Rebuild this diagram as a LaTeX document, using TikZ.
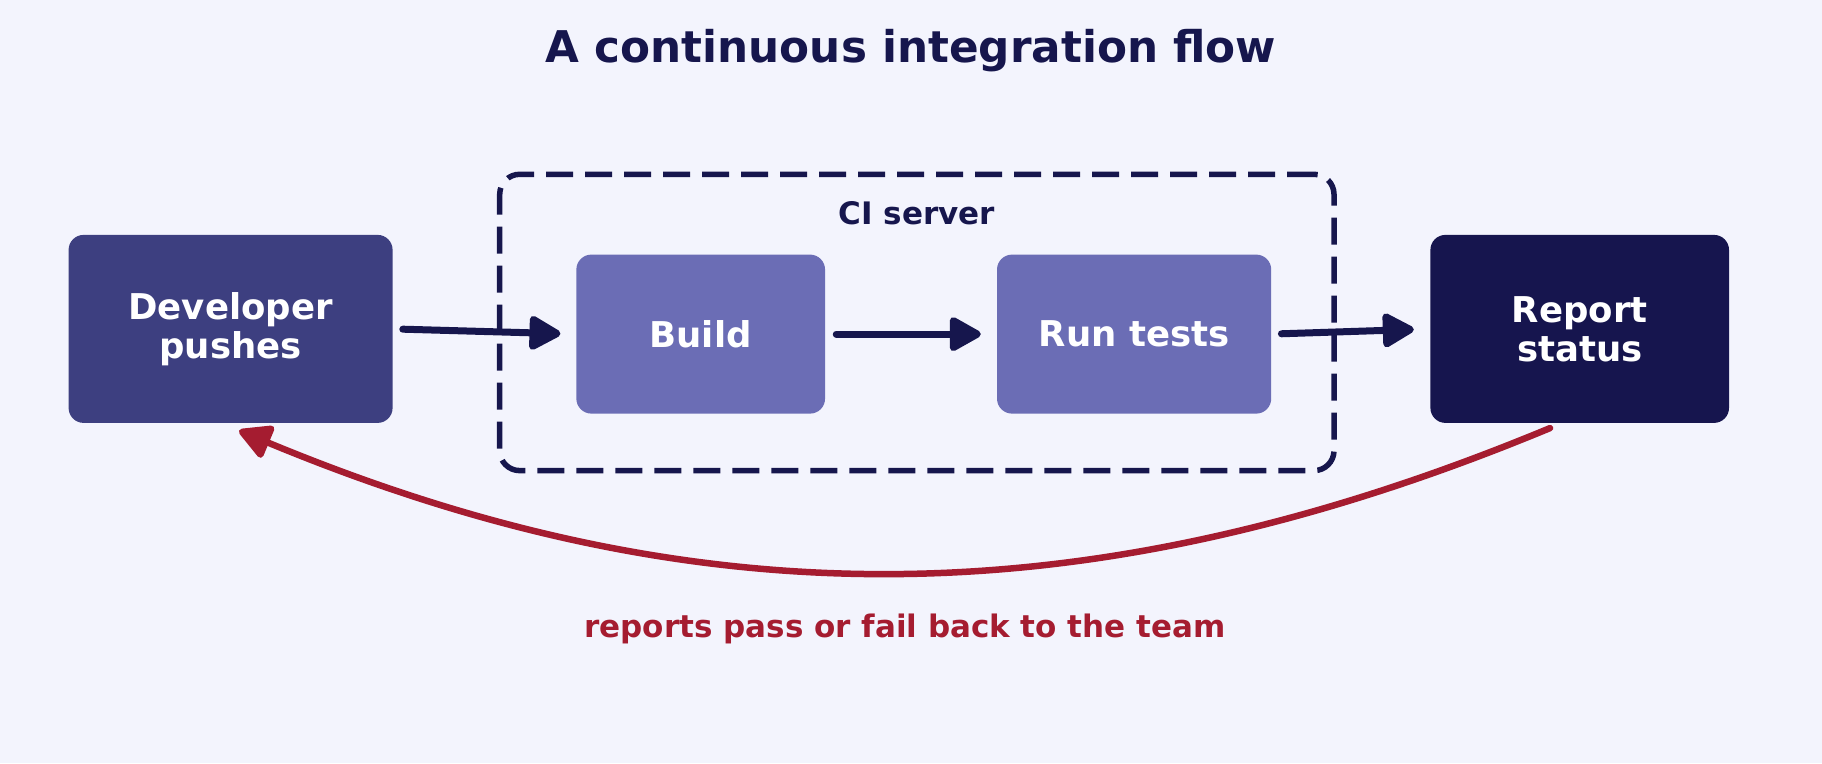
\documentclass[tikz,border=0pt]{standalone}
\usepackage{fontspec}
\setmainfont{DejaVu Sans}
\usetikzlibrary{arrows.meta,calc}
\definecolor{bgc}{HTML}{F3F4FD}
\definecolor{devc}{HTML}{3D3F80}
\definecolor{stepc}{HTML}{6B6DB5}
\definecolor{repc}{HTML}{16154E}
\definecolor{navy}{HTML}{16164D}
\definecolor{redc}{HTML}{A51C30}
\tikzset{
  box/.style={rounded corners=15pt, inner sep=0pt, align=center, text=white,
    font=\fontsize{35.5}{39}\selectfont\bfseries},
  flow/.style={draw=navy, line width=7pt, line cap=round,
    -{Triangle[length=35pt,width=37pt,round]}},
  back/.style={draw=redc, line width=6.5pt, line cap=round,
    -{Triangle[length=36pt,width=37pt,round]}},
  cibox/.style={draw=navy, line width=5.5pt, rounded corners=20pt,
    dash pattern=on 27pt off 12pt, inner sep=0pt},
}
\begin{document}
\begin{tikzpicture}[x=1pt,y=-1pt]
\fill[bgc] (0,0) rectangle (1822,763);
\useasboundingbox (0,0) rectangle (1822,763);

\node[anchor=base, text=navy, font=\fontsize{43.7}{48}\selectfont\bfseries] (title) at (911,62.7) {A continuous integration flow};

\node[cibox, minimum width=834.3pt, minimum height=296.3pt] (ci) at (916.85,322.45) {};
\node[anchor=base, text=navy, font=\fontsize{31}{34}\selectfont\bfseries] (cilabel) at (916.8,224.3) {CI server};

\node[box, fill=devc, minimum width=324pt, minimum height=188pt] (dev) at (230.6,328.9) {Developer\\pushes};
\node[box, fill=stepc, minimum width=248.7pt, minimum height=159pt] (build) at (700.7,334.1) {Build};
\node[box, fill=stepc, minimum width=274.2pt, minimum height=159pt] (run) at (1134.1,334.1) {Run tests};
\node[box, fill=repc, minimum width=298.6pt, minimum height=188pt] (rep) at (1579.7,328.9) {Report\\status};

\draw[flow, shorten <=10pt, shorten >=15.7pt] (dev.east) -- (build.west);
\draw[flow, shorten <=11pt, shorten >=16pt] (build.east) -- (run.west);
\draw[flow, shorten <=10pt, shorten >=16.4pt] (run.east) -- (rep.west);

\coordinate (bstart) at ($(rep.south)+(-29.7,5)$);
\coordinate (bend) at ($(dev.south)+(8.5,7.5)$);
\draw[back] (bstart) .. controls ($(bstart)+(-460,191)$) and ($(bend)+(460,191)$) .. (bend);

\node[anchor=base, text=redc, font=\fontsize{31}{34}\selectfont\bfseries] (note) at (905,637.5) {reports pass or fail back to the team};
\end{tikzpicture}
\end{document}
